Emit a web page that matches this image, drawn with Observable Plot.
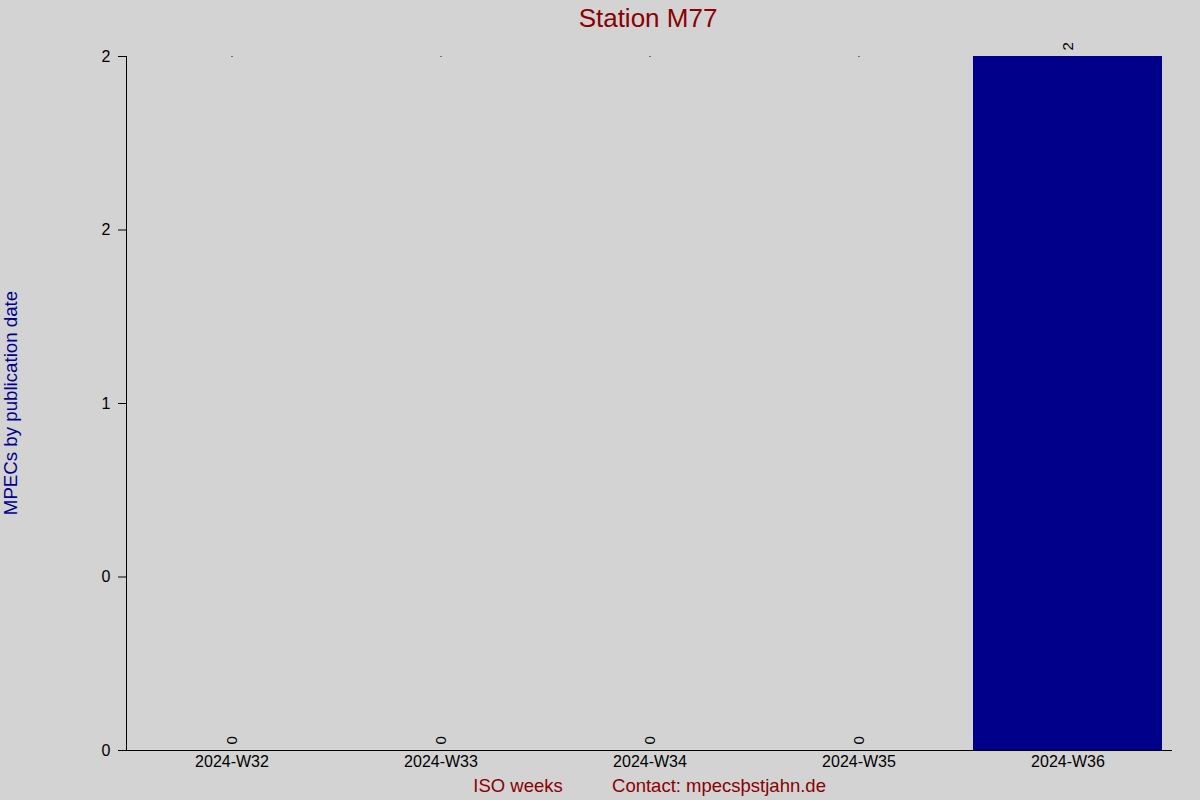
<!DOCTYPE html>
<html>
<head>
<meta charset="utf-8">
<script src="https://cdn.jsdelivr.net/npm/d3@7"></script>
<script src="https://cdn.jsdelivr.net/npm/@observablehq/plot@0.6"></script>
<style>
  html, body { margin: 0; padding: 0; background: #d3d3d3; }
  #chart svg { display: block; }
</style>
</head>
<body>
<div id="chart"></div>
<script>
const weeks = ["2024-W32", "2024-W33", "2024-W34", "2024-W35", "2024-W36"];
const counts = [0, 0, 0, 0, 2];
const yTickValues = [0, 0.5, 1, 1.5, 2];
const yTickLabels = ["0", "0", "1", "2", "2"];
const titleText = "Station M77";
const yLabelText = "MPECs by publication date";
const xLabelText = "ISO weeks";
const contactText = "Contact: mpecsϸstjahn.de";

const data = weeks.map((w, i) => ({week: w, count: counts[i]}));
const yMax = d3.max(yTickValues);

const font = "'Liberation Sans', Arial, sans-serif";
const W = 1200, H = 800;
const mL = 126, mR = 28, mT = 56, mB = 50;

const plot = Plot.plot({
  width: W,
  height: H,
  marginLeft: mL,
  marginRight: mR,
  marginTop: mT,
  marginBottom: mB,
  style: {background: "#d3d3d3", fontFamily: font, fontSize: "16px", color: "black"},
  x: {domain: weeks, padding: 0, label: null},
  y: {domain: [0, yMax], label: null},
  marks: [
    Plot.barY(data, {x: "week", y: "count", fill: "#00008b", insetLeft: 10, insetRight: 10}),
    Plot.dot(data.filter(d => d.count === 0), {x: "week", y: () => yMax, r: 0.6, fill: "black", stroke: null}),
    Plot.text(data, {x: "week", y: "count", text: d => String(d.count), rotate: -90, textAnchor: "start", dy: -6, fontSize: 15, fill: "black"}),
    Plot.axisY({ticks: yTickValues, tickFormat: (d, i) => yTickLabels[i], tickSize: 8, tickPadding: 8, fontSize: 16, label: null}),
    Plot.axisX({tickSize: 0, tickPadding: 5, fontSize: 16, label: null}),
    Plot.ruleY([0], {stroke: "black"})
  ]
});

document.getElementById("chart").appendChild(plot);

const svg = d3.select(plot);
// left axis line
svg.append("line")
  .attr("x1", mL + 0.5).attr("x2", mL + 0.5)
  .attr("y1", mT).attr("y2", H - mB)
  .attr("stroke", "black");

svg.append("text")
  .attr("x", 648).attr("y", 27)
  .attr("text-anchor", "middle")
  .attr("fill", "#8b0000")
  .style("font-family", font).style("font-size", "26px")
  .text(titleText);

svg.append("text")
  .attr("transform", `translate(17,403) rotate(-90)`)
  .attr("text-anchor", "middle")
  .attr("fill", "#00008b")
  .style("font-family", font).style("font-size", "18.7px")
  .text(yLabelText);

svg.append("text")
  .attr("x", 518).attr("y", 792)
  .attr("text-anchor", "middle")
  .attr("fill", "#8b0000")
  .style("font-family", font).style("font-size", "18.5px")
  .text(xLabelText);

svg.append("text")
  .attr("x", 719).attr("y", 792)
  .attr("text-anchor", "middle")
  .attr("fill", "#8b0000")
  .style("font-family", font).style("font-size", "18.5px")
  .text(contactText);
</script>
</body>
</html>
